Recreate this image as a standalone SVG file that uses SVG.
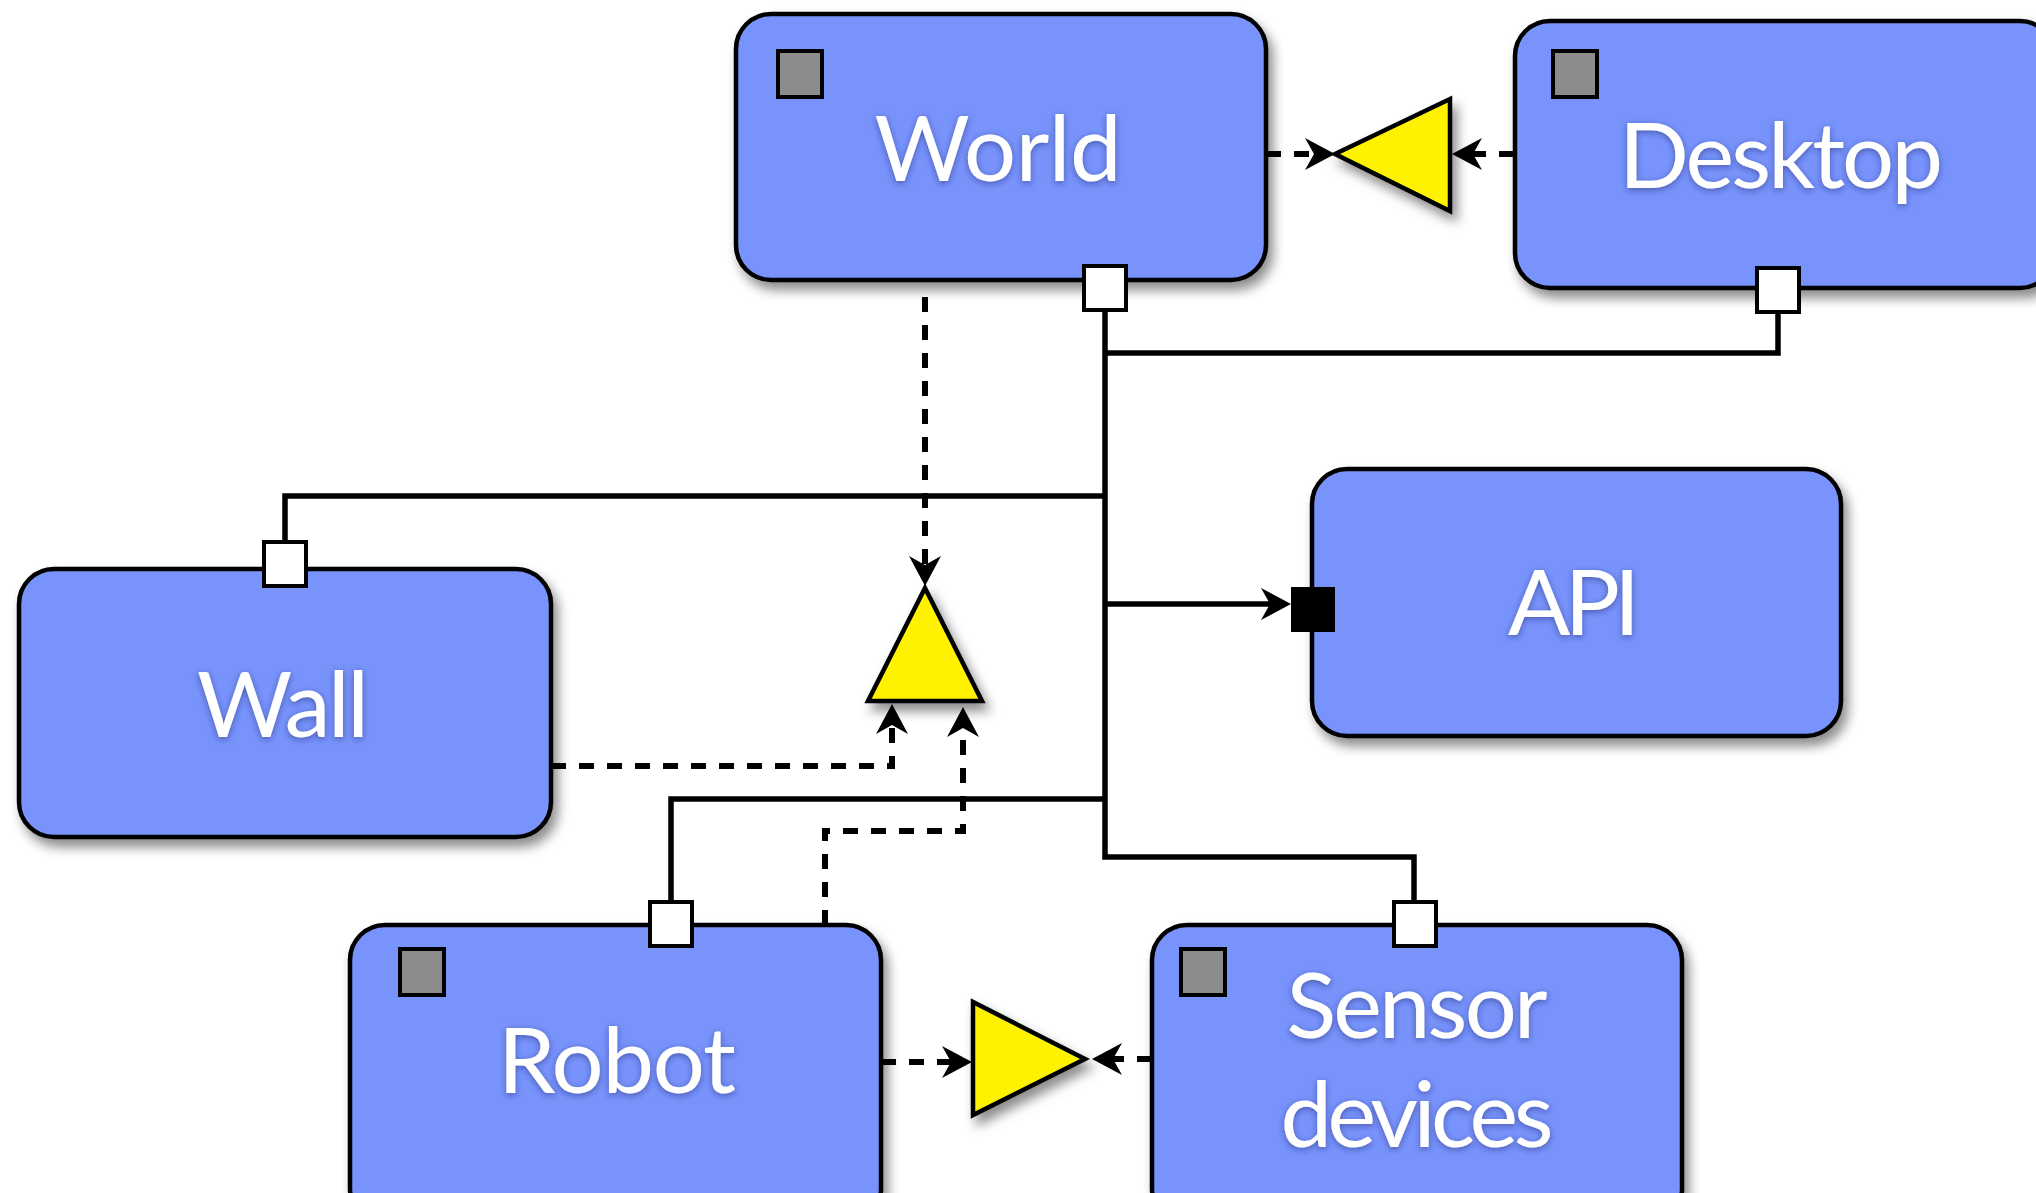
<svg xmlns="http://www.w3.org/2000/svg" width="2036" height="1193" viewBox="0 0 2036 1193">
<defs>
<style>
.box{fill:#7893FB;stroke:#000;stroke-width:4.5;filter:url(#sh)}
.tri{fill:#FFF200;stroke:#000;stroke-width:4.5;stroke-linejoin:miter;filter:url(#sh)}
.gray{fill:#8C8C8C;stroke:#000;stroke-width:4}
.port{fill:#fff;stroke:#000;stroke-width:4}
.bport{fill:#000;stroke:#000;stroke-width:2}
.lbl{font-family:Lato,"Open Sans","Liberation Sans",sans-serif;font-size:92px;fill:#fff;text-anchor:middle;filter:url(#tsh)}
.solid{fill:none;stroke:#000;stroke-width:5.5}
.dash{fill:none;stroke:#000;stroke-width:6;stroke-dasharray:15 13}
</style>
<filter id="sh" x="-20%" y="-20%" width="140%" height="150%">
<feDropShadow dx="5" dy="8" stdDeviation="6" flood-color="#000" flood-opacity="0.45"/>
</filter>
<filter id="tsh" x="-20%" y="-30%" width="140%" height="160%">
<feDropShadow dx="0" dy="2" stdDeviation="3" flood-color="#1a2a70" flood-opacity="0.55"/>
</filter>
<marker id="arr" markerUnits="userSpaceOnUse" viewBox="-32 -18 34 36" markerWidth="34" markerHeight="36" refX="-12" refY="0" orient="auto">
<path d="M0,0 L-30,-16 L-21,0 L-30,16 Z" fill="#000"/>
</marker>
</defs>
<rect width="2036" height="1193" fill="#fff"/>

<g id="connectors">
<path class="solid" d="M1105,310 V857 H1414 V902"/>
<path class="solid" d="M1105,353 H1778 V312"/>
<path class="solid" d="M1105,496 H285 V542"/>
<path class="solid" d="M1105,799 H671 V902"/>
<path class="solid" d="M1105,604 H1279" marker-end="url(#arr)"/>
<path class="dash" d="M1266,154 H1323" marker-end="url(#arr)"/>
<path class="dash" d="M1514,154 H1464" marker-end="url(#arr)"/>
<path class="dash" d="M925,297 V574" marker-end="url(#arr)"/>
<path class="dash" d="M551,766 H892 V716" marker-end="url(#arr)"/>
<path class="dash" d="M825,925 V831 H963 V719" marker-end="url(#arr)"/>
<path class="dash" d="M881,1062 H960" marker-end="url(#arr)"/>
<path class="dash" d="M1152,1059 H1104" marker-end="url(#arr)"/>
</g>

<g id="world">
<rect class="box" x="736" y="14" width="530" height="266" rx="35"/>
<rect class="gray" x="778" y="51" width="44" height="46"/>
<rect class="port" x="1084" y="266" width="42" height="44"/>
<text class="lbl" x="998" y="181" textLength="247">World</text>
</g>

<g id="desktop">
<rect class="box" x="1515" y="21" width="540" height="267" rx="35"/>
<rect class="gray" x="1553" y="51" width="44" height="46"/>
<rect class="port" x="1757" y="268" width="42" height="44"/>
<text class="lbl" x="1781" y="188" textLength="324">Desktop</text>
</g>

<g id="api">
<rect class="box" x="1312" y="469" width="529" height="267" rx="35"/>
<rect class="bport" x="1292" y="588" width="42" height="43"/>
<text class="lbl" x="1574" y="635" textLength="132">API</text>
</g>

<g id="wall">
<rect class="box" x="19" y="569" width="532" height="268" rx="35"/>
<rect class="port" x="264" y="542" width="42" height="44"/>
<text class="lbl" x="283" y="737" textLength="172">Wall</text>
</g>

<g id="robot">
<rect class="box" x="350" y="925" width="531" height="300" rx="35"/>
<rect class="gray" x="400" y="949" width="44" height="46"/>
<rect class="port" x="650" y="902" width="42" height="44"/>
<text class="lbl" x="617" y="1093" textLength="238">Robot</text>
</g>

<g id="sensor">
<rect class="box" x="1152" y="925" width="530" height="300" rx="35"/>
<rect class="gray" x="1181" y="949" width="44" height="46"/>
<rect class="port" x="1394" y="902" width="42" height="44"/>
<text class="lbl" x="1417" y="1038" textLength="261">Sensor</text>
<text class="lbl" x="1417" y="1147" textLength="273">devices</text>
</g>

<g id="join-top">
<polygon class="tri" points="1335,154 1450,99 1450,211"/>
</g>
<g id="join-mid">
<polygon class="tri" points="925,588 868,701 982,701"/>
</g>
<g id="join-bottom">
<polygon class="tri" points="973,1002 973,1115 1085,1059"/>
</g>
</svg>
